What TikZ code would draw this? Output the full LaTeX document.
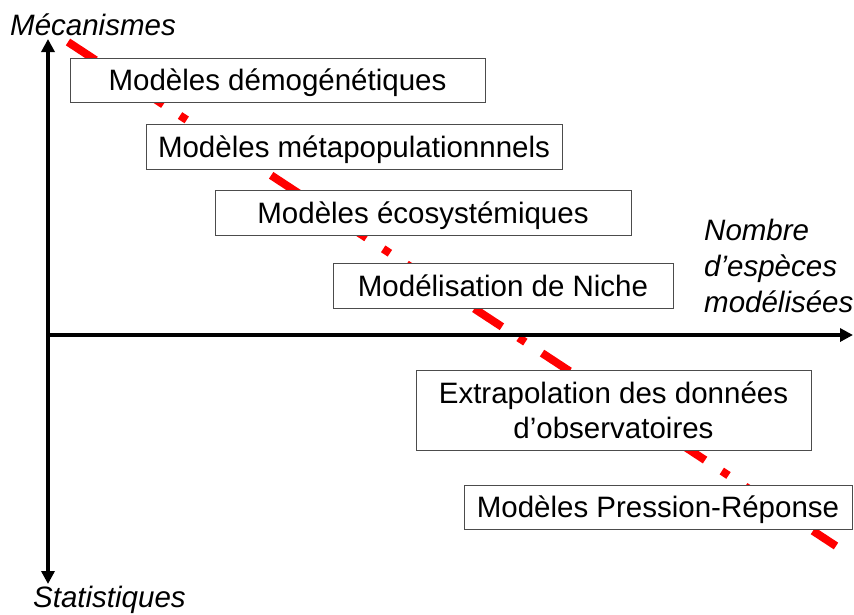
\documentclass[tikz,border=0pt]{standalone}
\usepackage{fontspec}
\setmainfont{Liberation Sans}
\usetikzlibrary{arrows.meta}
\begin{document}
\begin{tikzpicture}[x=1pt,y=-1pt,
  modelbox/.style={draw=black!70, line width=1pt, fill=white, inner sep=0pt,
    align=center, font=\fontsize{29.5}{35}\selectfont},
  onerow/.style={text height=21pt, text depth=0pt},
  axis/.style={line width=4pt, -{Triangle[length=13pt,width=13pt]}},
  axislabel/.style={font=\fontsize{29.5}{36}\selectfont\itshape, inner sep=0pt},
  trend/.style={red, line width=8pt, dash pattern=on 33pt off 20pt on 8pt off 20pt}]
\useasboundingbox (0,0) rectangle (854,614);

% trend line, drawn first so the boxes cover it
\coordinate (tstart) at (68,42);
\coordinate (tend) at (836,546);
\draw[trend] (tstart) -- (tend);

% model boxes
\node[modelbox, onerow, minimum width=415pt, minimum height=44pt] (b1) at (277.5,80) {Modèles démogénétiques};
\node[modelbox, onerow, minimum width=416pt, minimum height=45pt] (b2) at (354,146.5) {Modèles métapopulationnnels};
\node[modelbox, onerow, minimum width=416pt, minimum height=45pt] (b3) at (423,212.5) {Modèles écosystémiques};
\node[modelbox, onerow, minimum width=340pt, minimum height=45pt] (b4) at (503,285.5) {Modélisation de Niche};
\node[modelbox, minimum width=395pt, minimum height=80pt] (b5) at (613.5,410) {Extrapolation des données\\d’observatoires};
\node[modelbox, onerow, minimum width=388pt, minimum height=44pt] (b6) at (658,507) {Modèles Pression-Réponse};

% axes
\coordinate (origin) at (48,335);
\coordinate (ytop) at (48,39);
\coordinate (ybot) at (48,584);
\coordinate (xleft) at (46,335);
\coordinate (xright) at (853,335);
\draw[axis] (origin) -- (ytop);
\draw[axis] (origin) -- (ybot);
\draw[axis] (xleft) -- (xright);

% axis labels
\node[axislabel, anchor=base west] (lmeca) at (10,35) {Mécanismes};
\node[axislabel, anchor=base west] (lstat) at (33,607) {Statistiques};
\node[axislabel, anchor=north west, align=left] (lnb) at (704,219) {Nombre\\d’espèces\\modélisées};
\end{tikzpicture}
\end{document}
